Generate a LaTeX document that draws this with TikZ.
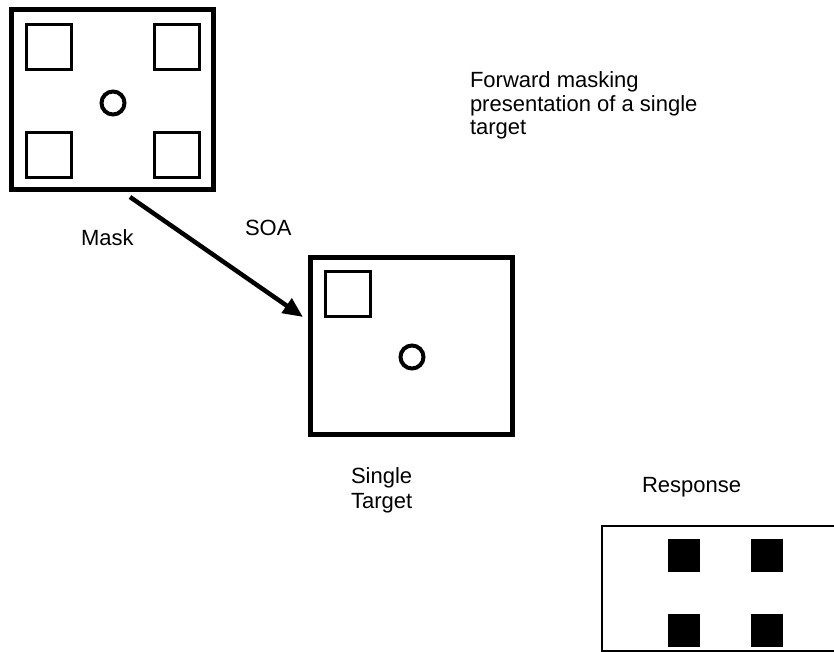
\documentclass[tikz,border=0pt]{standalone}
\usepackage{fontspec}
\setmainfont{Liberation Sans}
\usetikzlibrary{arrows.meta}

\begin{document}
\begin{tikzpicture}[x=1pt, y=-1pt,
  every node/.style={outer sep=0pt, inner sep=0pt},
  frame/.style={draw=black, line width=5pt},
  cue/.style={draw=black, line width=3pt, minimum size=45pt},
  fixdot/.style={draw=black, line width=4pt, circle, minimum size=23pt},
  filledsq/.style={fill=black, minimum width=32pt, minimum height=33pt},
  lbl/.style={font=\fontsize{22}{23.5}\selectfont, align=left},
  soa/.style={line width=4.5pt, -{Triangle[length=20pt, width=17pt]}}
]
\useasboundingbox (0,0) rectangle (834,652);

% mask display: four placeholders around the fixation ring
\node[frame, minimum width=201.5pt, minimum height=180pt] (mask) at (112.25,99.5) {};
\node[cue] (mtl) at (49,47) {};
\node[cue] (mtr) at (177,47) {};
\node[cue] (mbl) at (49,155.5) {};
\node[cue] (mbr) at (177,155.5) {};
\node[fixdot] (mfix) at (113,103) {};

% single target display
\node[frame, minimum width=202pt, minimum height=177.5pt] (target) at (411.5,345.75) {};
\node[cue] (tsq) at (348,294) {};
\node[fixdot] (tfix) at (412,357) {};

% response display (runs off the page edge)
\node[draw=black, line width=2pt, minimum width=240pt, minimum height=125pt, anchor=north west] (resp) at (602,526) {};
\node[filledsq] (r1) at (684,555.5) {};
\node[filledsq] (r2) at (767,555.5) {};
\node[filledsq] (r3) at (684,630.5) {};
\node[filledsq] (r4) at (767,630.5) {};

% SOA arrow from mask to target
\coordinate (soaStart) at (130,197);
\coordinate (soaEnd) at (303,317);
\draw[soa] (soaStart) -- (soaEnd);

% labels
\node[lbl, anchor=north west] (title) at (470,72) {Forward masking\\presentation of a single\\target};
\node[lbl, anchor=base west] (masklbl) at (81,245) {Mask};
\node[lbl, anchor=base west] (soalbl) at (245,236) {SOA};
\node[lbl, anchor=north west, font=\fontsize{22}{25}\selectfont] (targetlbl) at (351,468) {Single\\Target};
\node[lbl, anchor=base west] (resplbl) at (642,492) {Response};
\end{tikzpicture}
\end{document}
